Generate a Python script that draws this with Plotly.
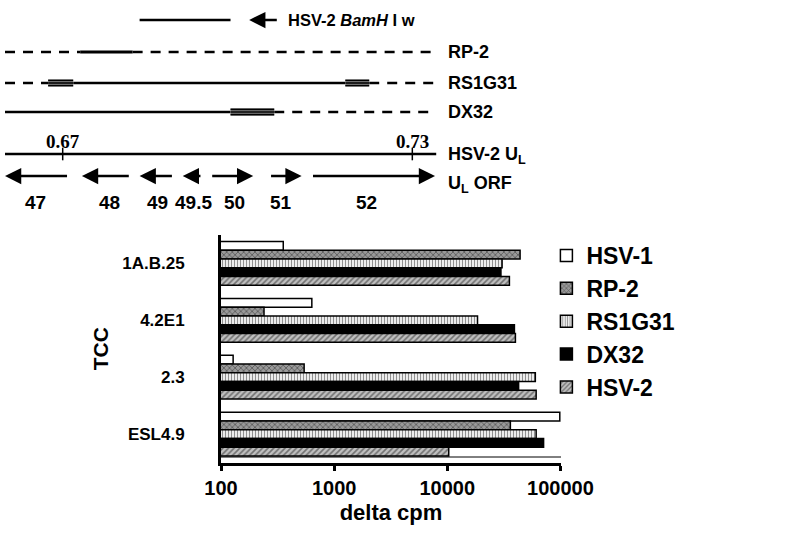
import plotly.graph_objects as go

# ---- T cell clone responses (delta cpm)
tcc = ["1A.B.25", "4.2E1", "2.3", "ESL4.9"]
hsv1 = [355, 635, 128, 98700]
rp2 = [44000, 240, 543, 36100]
rs1g31 = [30500, 18500, 60000, 61000]
dx32 = [29800, 39200, 42700, 71000]
hsv2 = [35400, 40000, 61000, 10300]
x_ticks = [100, 1000, 10000, 100000]

# ---- HSV-2 UL genome map (map units)
map_left, map_right = 0.6601, 0.7341
map_ticks = [0.67, 0.73]
bamhi_w = [(0.6832, 0.6988)]
bamhi_arrow = (0.7070, 0.7020)  # tail, head
rp2_solid = [(0.6730, 0.6820)]
rp2_dashed = [(0.6601, 0.6730), (0.6820, 0.7341)]
rs1g31_solid = [(0.6718, 0.7185)]
rs1g31_boxed = [(0.6675, 0.6718), (0.7185, 0.7226)]
rs1g31_dashed = [(0.6601, 0.6675), (0.7226, 0.7341)]
dx32_solid = [(0.6601, 0.6988)]
dx32_boxed = [(0.6988, 0.7063)]
dx32_dashed = [(0.7063, 0.7341)]
orf_names = ["47", "48", "49", "49.5", "50", "51", "52"]
orf_tail = [0.6710, 0.6816, 0.6890, 0.6939, 0.6954, 0.7055, 0.7127]
orf_head = [0.6601, 0.6733, 0.6832, 0.6906, 0.7027, 0.7110, 0.7339]
orf_label_x = [0.6653, 0.6781, 0.6862, 0.6924, 0.6994, 0.7075, 0.7222]

# row heights of the map (y2 runs in pixels, top = 0)
ROW = dict(bamhi=20, rp2=52, rs1g31=83, dx32=112, ul=154, orf=176,
           orf_lbl=202, map_lbl=141)

SANS = "Liberation Sans, Arial, sans-serif"

fig = go.Figure()


def segs(pairs, y, dash=None, width=2.5, color="black"):
    xs, ys = [], []
    for a, b in pairs:
        xs += [a, b, None]
        ys += [y, y, None]
    fig.add_trace(go.Scatter(x=xs, y=ys, xaxis="x2", yaxis="y2", mode="lines",
                             line=dict(color=color, width=width, dash=dash),
                             hoverinfo="skip", showlegend=False))


def boxed(pairs, y):
    segs(pairs, y, width=7, color="#8a8a8a")
    segs(pairs, y - 2.6, width=1.6)
    segs(pairs, y + 2.6, width=1.6)
    segs(pairs, y, width=1.6)


DASH = "10px,8px"
segs(bamhi_w, ROW["bamhi"])
segs(rp2_dashed, ROW["rp2"], dash=DASH)
segs(rp2_solid, ROW["rp2"], width=3)
segs(rs1g31_dashed, ROW["rs1g31"], dash=DASH)
segs(rs1g31_solid, ROW["rs1g31"])
boxed(rs1g31_boxed, ROW["rs1g31"])
segs(dx32_solid, ROW["dx32"])
segs(dx32_dashed, ROW["dx32"], dash=DASH)
boxed(dx32_boxed, ROW["dx32"])
segs([(map_left, map_right)], ROW["ul"])
fig.add_trace(go.Scatter(x=map_ticks, y=[ROW["ul"]] * len(map_ticks), xaxis="x2", yaxis="y2",
                         mode="markers", marker=dict(symbol="line-ns", size=9,
                                                     line=dict(color="black", width=1.5)),
                         hoverinfo="skip", showlegend=False))

# ---- bars
series = [
    ("HSV-1", hsv1, dict(color="white")),
    ("RP-2", rp2, dict(color="white", pattern=dict(shape="x", fgcolor="#111", bgcolor="#999", size=4, solidity=0.35))),
    ("RS1G31", rs1g31, dict(color="white", pattern=dict(shape="|", fgcolor="#222", bgcolor="white", size=3, solidity=0.45))),
    ("DX32", dx32, dict(color="black")),
    ("HSV-2", hsv2, dict(color="white", pattern=dict(shape="/", fgcolor="#222", bgcolor="#c0c0c0", size=4, solidity=0.4))),
]
for name, vals, mk in series:
    mk["line"] = dict(color="black", width=1.5)
    fig.add_trace(go.Bar(y=tcc, x=vals, name=name, orientation="h", marker=mk))

annotations = []
arrow_style = dict(xref="x2", yref="y2", axref="x2", ayref="y2", text="", showarrow=True,
                   arrowhead=2, arrowsize=1.3, arrowwidth=2.5, arrowcolor="black")
t, h = bamhi_arrow
annotations.append(dict(x=h, y=ROW["bamhi"], ax=t, ay=ROW["bamhi"], **arrow_style))
for t, h in zip(orf_tail, orf_head):
    annotations.append(dict(x=h, y=ROW["orf"], ax=t, ay=ROW["orf"], **arrow_style))
for n, x in zip(orf_names, orf_label_x):
    annotations.append(dict(x=x, y=ROW["orf_lbl"], xref="x2", yref="y2", text=n, showarrow=False,
                            font=dict(family=SANS, size=19, weight="bold")))
for m in map_ticks:
    annotations.append(dict(x=m, y=ROW["map_lbl"], xref="x2", yref="y2", text=f"{m:.2f}",
                            showarrow=False,
                            font=dict(family="Liberation Serif, Times New Roman, serif", size=19, weight="bold")))

right_labels = [
    (ROW["bamhi"], "HSV-2 <i>BamH</i> I w", 0.3575, 16.5),
    (ROW["rp2"], "RP-2", 0.5575, 18),
    (ROW["rs1g31"], "RS1G31", 0.5575, 18),
    (ROW["dx32"], "DX32", 0.5575, 18),
    (ROW["ul"] + 1, "HSV-2 U<sub>L</sub>", 0.5575, 18),
    (ROW["orf"] + 8, "U<sub>L</sub> ORF", 0.5575, 18),
]
for y, txt, xp, fs in right_labels:
    annotations.append(dict(x=xp, y=y, xref="paper", yref="y2", text=txt, showarrow=False,
                            xanchor="left", font=dict(family=SANS, size=fs, weight="bold")))

fig.update_layout(
    width=800, height=539,
    margin=dict(l=0, r=0, t=0, b=0),
    paper_bgcolor="white", plot_bgcolor="rgba(0,0,0,0)",
    font=dict(family=SANS, size=19, color="black", weight="bold"),
    barmode="group", bargap=0.23, bargroupgap=0,
    showlegend=True,
    legend=dict(x=0.683, y=0.566, xanchor="left", yanchor="top",
                font=dict(family=SANS, size=23, weight="bold"),
                bgcolor="rgba(0,0,0,0)", tracegroupgap=0),
    xaxis=dict(type="log", domain=[0.27625, 0.70125], range=[2, 5.005],
               tickvals=x_ticks, ticktext=[str(v) for v in x_ticks],
               showline=True, linewidth=3, linecolor="black", mirror=False,
               ticks="outside", ticklen=5, tickwidth=3, tickcolor="black",
               showgrid=False, zeroline=False, anchor="y", automargin=False,
               tickfont=dict(size=20),
               title=dict(text="delta cpm", font=dict(size=22), standoff=8)),
    yaxis=dict(domain=[0.1419, 0.564], autorange=False, range=[3.5, -0.5],
               showline=True, linewidth=3, linecolor="black",
               ticks="", showgrid=False, zeroline=False, anchor="x", automargin=False,
               ticklabelstandoff=30, tickfont=dict(size=17),
               title=dict(text="TCC", font=dict(size=21), standoff=8)),
    xaxis2=dict(domain=[0, 1], range=[0.65924, 0.796532], visible=False, anchor="y2",
                automargin=False),
    yaxis2=dict(domain=[0, 1], range=[539, 0], visible=False, anchor="x2", automargin=False),
    annotations=annotations,
    shapes=[dict(type="line", xref="x domain", yref="paper", x0=0, x1=1,
                 y0=1 - 457 / 539, y1=1 - 457 / 539, line=dict(color="black", width=1))],
)

# the page's default body margin would push the figure 8px off the window
fig.write_html("out.html", config={"displayModeBar": False},
               post_script="document.body.style.margin='0px';")
